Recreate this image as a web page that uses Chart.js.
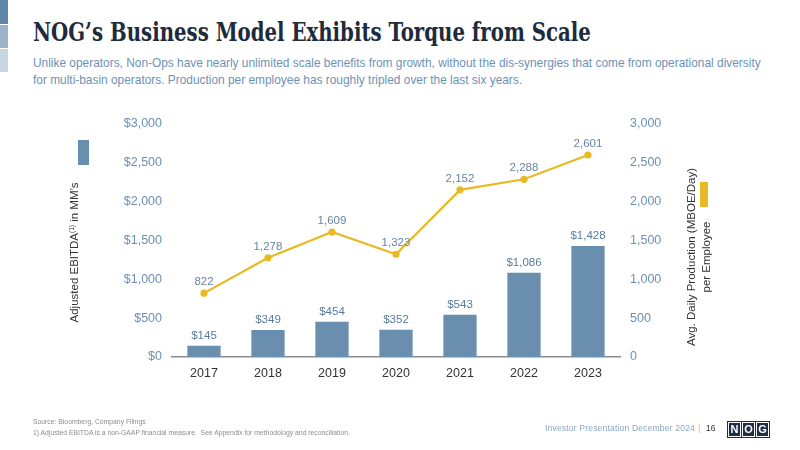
<!DOCTYPE html>
<html>
<head>
<meta charset="utf-8">
<script src="https://cdn.jsdelivr.net/npm/chart.js@4"></script>
<style>
  body { margin: 0; width: 800px; height: 450px; background: #fff; overflow: hidden; position: relative; font-family: "Liberation Sans", Arial, sans-serif; }
  #c { position: absolute; left: 0; top: 0; }
  .abs { position: absolute; white-space: nowrap; }
  .strip { position: absolute; left: 0; width: 8px; }
  #title { left: 33px; top: 17px; font-family: "DejaVu Serif Condensed", "DejaVu Serif", serif; font-weight: bold; font-size: 26px; color: #1e2b3c; transform-origin: left top; }
  #sub { left: 33px; top: 55px; font-size: 11.9px; line-height: 17px; color: #6e92b6; }
  .ytitle { font-size: 11.5px; color: #333; transform: rotate(-90deg); transform-origin: center center; text-align: center; line-height: 15px; }
  .foot { font-size: 6.8px; color: #8d8d8d; }
  #logo { left: 727px; top: 421px; height: 15px; display: flex; gap: 1px; background: #1f2e4a; padding: 1px; }
  #logo span { width: 11px; background: #1f2e4a; color: #fff; font: bold 11px/13px "Liberation Sans", Arial, sans-serif; text-align: center; border: 1px solid #fff; }
</style>
</head>
<body>
<div class="strip" style="top:0;height:24px;background:#5f86aa"></div>
<div class="strip" style="top:25px;height:23px;background:#9ab3c9"></div>
<div class="strip" style="top:49px;height:23px;background:#c8d6e3"></div>

<div id="title" class="abs">NOG’s Business Model Exhibits Torque from Scale</div>
<div id="sub" class="abs">Unlike operators, Non-Ops have nearly unlimited scale benefits from growth, without the dis-synergies that come from operational diversity<br>for multi-basin operators. Production per employee has roughly tripled over the last six years.</div>

<canvas id="c" width="800" height="450"></canvas>

<div class="abs" style="left:78px;top:140px;width:11px;height:25px;background:#6a8fae"></div>
<div class="abs ytitle" style="left:-7px;top:243px;width:160px">Adjusted EBITDA<sup style="font-size:6.5px">(1)</sup> in MM’s</div>

<div class="abs" style="left:700px;top:182px;width:8px;height:25px;background:#e8b923"></div>
<div class="abs ytitle" style="left:604px;top:242px;width:190px">Avg. Daily Production (MBOE/Day)<br>per Employee</div>

<div class="abs foot" style="left:33px;top:418px">Source: Bloomberg, Company Filings</div>
<div class="abs foot" style="left:33px;top:429px">1) Adjusted EBITDA is a non-GAAP financial measure.&nbsp; See Appendix for methodology and reconciliation.</div>
<div class="abs" style="left:545px;top:423px;font-size:8.6px;color:#8aa7c3;letter-spacing:0.15px">Investor Presentation December 2024</div>
<div class="abs" style="left:698px;top:423px;font-size:9px;color:#e8b923">|</div>
<div class="abs" style="left:706px;top:423px;font-size:8.6px;color:#333">16</div>
<div id="logo" class="abs"><span>N</span><span>O</span><span>G</span></div>

<script>
const years = ["2017", "2018", "2019", "2020", "2021", "2022", "2023"];
const ebitda = [145, 349, 454, 352, 543, 1086, 1428];
const production = [822, 1278, 1609, 1323, 2152, 2288, 2601];
const leftTicks = [0, 500, 1000, 1500, 2000, 2500, 3000];

// fit the title to its width in the slide
const t = document.getElementById("title");
t.style.transform = "scaleX(" + (558 / t.offsetWidth) + ")";

const fmt = n => n.toLocaleString("en-US");

const valueLabels = {
  id: "valueLabels",
  afterDatasetsDraw(chart) {
    const ctx = chart.ctx;
    ctx.save();
    ctx.font = "11.5px 'Liberation Sans', Arial, sans-serif";
    ctx.textAlign = "center";
    ctx.textBaseline = "middle";
    chart.data.datasets.forEach((ds, i) => {
      chart.getDatasetMeta(i).data.forEach((el, j) => {
        const v = ds.data[j];
        const txt = ds.type === "bar" ? "$" + fmt(v) : fmt(v);
        ctx.fillStyle = ds.type === "bar" ? "#587a9c" : "#6785a5";
        ctx.fillText(txt, el.x, el.y - (ds.type === "bar" ? 10 : 11));
      });
    });
    ctx.restore();
  }
};

new Chart(document.getElementById("c"), {
  type: "bar",
  data: {
    labels: years,
    datasets: [
      {
        type: "line",
        label: "Production per Employee",
        data: production,
        yAxisID: "y1",
        borderColor: "#e8b923",
        backgroundColor: "#e8b923",
        borderWidth: 2.2,
        pointRadius: 2.5,
        tension: 0,
        order: 1
      },
      {
        type: "bar",
        label: "Adjusted EBITDA",
        data: ebitda,
        yAxisID: "y",
        backgroundColor: "#6a8fae",
        barPercentage: 0.52,
        categoryPercentage: 1,
        order: 2
      }
    ]
  },
  options: {
    responsive: false,
    animation: false,
    layout: { padding: { left: 100, top: 124, right: 0, bottom: 0 } },
    plugins: { legend: { display: false }, tooltip: { enabled: false } },
    scales: {
      x: {
        grid: { display: false, drawTicks: false },
        border: { display: true, color: "#8c8c8c", width: 1.5 },
        ticks: { color: "#333", font: { size: 12.5, family: "'Liberation Sans', Arial, sans-serif" }, padding: 9 },
        afterFit: s => { s.height = 93; }
      },
      y: {
        position: "left",
        min: leftTicks[0],
        max: leftTicks[leftTicks.length - 1],
        afterBuildTicks: s => { s.ticks = leftTicks.map(v => ({ value: v })); },
        grid: { display: false, drawTicks: false },
        border: { display: false },
        ticks: { color: "#6e8fb4", font: { size: 12.5, family: "'Liberation Sans', Arial, sans-serif" }, padding: 10, callback: v => "$" + fmt(v) },
        afterFit: s => { s.width = 72; }
      },
      y1: {
        position: "right",
        min: leftTicks[0],
        max: leftTicks[leftTicks.length - 1],
        afterBuildTicks: s => { s.ticks = leftTicks.map(v => ({ value: v })); },
        grid: { display: false, drawTicks: false },
        border: { display: false },
        ticks: { color: "#6e8fb4", font: { size: 12.5, family: "'Liberation Sans', Arial, sans-serif" }, padding: 10, callback: v => fmt(v) },
        afterFit: s => { s.width = 180; }
      }
    }
  },
  plugins: [valueLabels]
});
</script>
</body>
</html>
